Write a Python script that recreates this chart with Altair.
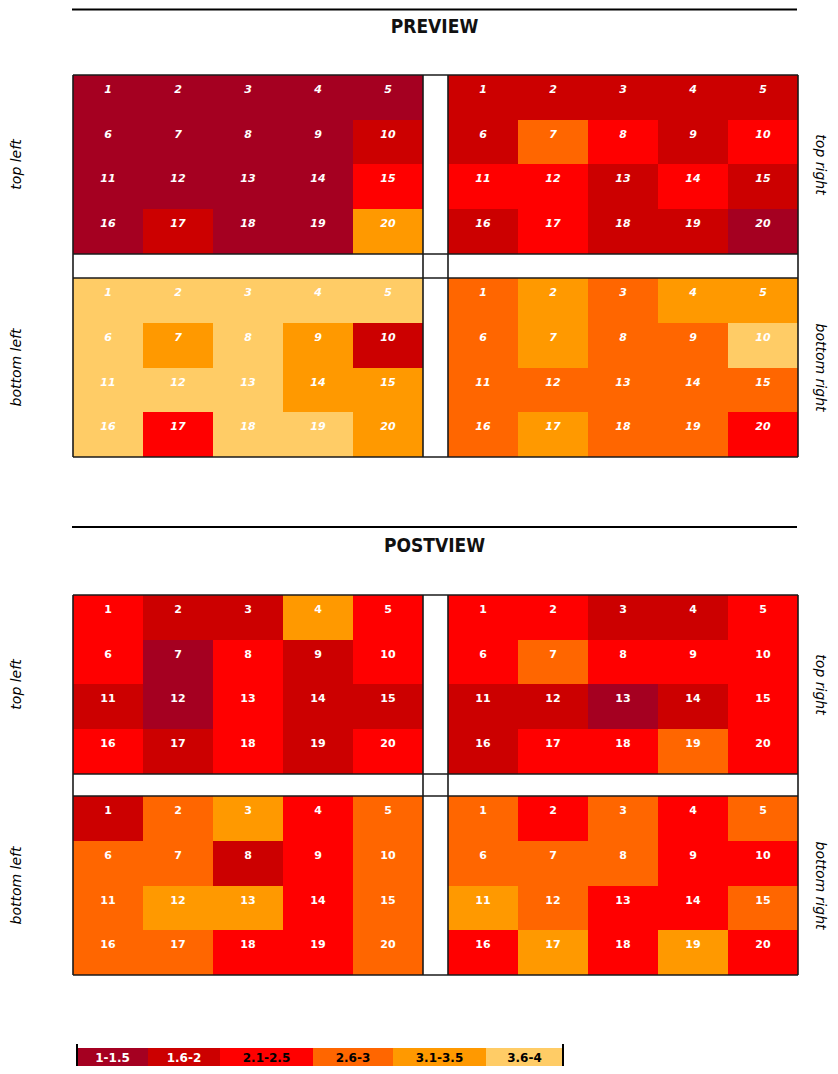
import altair as alt
import pandas as pd

# ---------------- data ----------------
CATEGORIES = ["1-1.5", "1.6-2", "2.1-2.5", "2.6-3", "3.1-3.5", "3.6-4"]
COLORS = ["#A50021", "#CC0000", "#FF0000", "#FF6600", "#FF9900", "#FFCC66"]
SECTIONS = ["PREVIEW", "POSTVIEW"]
QUADRANTS = ["top left", "top right", "bottom left", "bottom right"]
CELL_NUMBERS = list(range(1, 21))

# category index (1..6) of cells 1..20 (row by row, 5 per row)
PRE_TOP_LEFT = [1, 1, 1, 1, 1, 1, 1, 1, 1, 2, 1, 1, 1, 1, 3, 1, 2, 1, 1, 5]
PRE_TOP_RIGHT = [2, 2, 2, 2, 2, 2, 4, 3, 2, 3, 3, 3, 2, 3, 2, 2, 3, 2, 2, 1]
PRE_BOTTOM_LEFT = [6, 6, 6, 6, 6, 6, 5, 6, 5, 2, 6, 6, 6, 5, 5, 6, 3, 6, 6, 5]
PRE_BOTTOM_RIGHT = [4, 5, 4, 5, 5, 4, 5, 4, 4, 6, 4, 4, 4, 4, 4, 4, 5, 4, 4, 3]
POST_TOP_LEFT = [3, 2, 2, 5, 3, 3, 1, 3, 2, 3, 2, 1, 3, 2, 2, 3, 2, 3, 2, 3]
POST_TOP_RIGHT = [3, 3, 2, 2, 3, 3, 4, 3, 3, 3, 2, 2, 1, 2, 3, 2, 3, 3, 4, 3]
POST_BOTTOM_LEFT = [2, 4, 5, 3, 4, 4, 4, 2, 3, 4, 4, 5, 5, 3, 4, 4, 4, 3, 3, 4]
POST_BOTTOM_RIGHT = [4, 3, 4, 3, 4, 4, 4, 4, 3, 3, 5, 4, 3, 3, 4, 3, 5, 3, 5, 3]

VALUES = {
    "PREVIEW": [PRE_TOP_LEFT, PRE_TOP_RIGHT, PRE_BOTTOM_LEFT, PRE_BOTTOM_RIGHT],
    "POSTVIEW": [POST_TOP_LEFT, POST_TOP_RIGHT, POST_BOTTOM_LEFT, POST_BOTTOM_RIGHT],
}

# ---------------- layout (chart pixel units) ----------------
W, H = 822, 1058
QX = [65, 440]          # left edge of left / right quadrant
CW = 70                 # cell width
SEC_TOP = [67, 587]     # top of each section's grid
QH = 179                # quadrant height
GAP = [24, 22]          # gap between top and bottom quadrants
RH = QH / 4
GRID_RIGHT = QX[1] + 5 * CW
TITLE_Y = [19, 538]
LINE_Y = [1.5, 519]
LEG_EDGES = [69, 140, 212, 305, 385, 478, 555]
LEG_Y = [1040, 1058]

# ---------------- tables ----------------
cells = []
sides = []
rules = []
for s_i, sec in enumerate(SECTIONS):
    top = SEC_TOP[s_i]
    for q_i, quad in enumerate(QUADRANTS):
        qc, qr = q_i % 2, q_i // 2
        qtop = top + qr * (QH + GAP[s_i])
        for k, num in enumerate(CELL_NUMBERS):
            c, r = k % 5, k // 5
            y0 = round(qtop + r * RH)
            y1 = round(qtop + (r + 1) * RH)
            cells.append({
                "section": sec, "quadrant": quad, "num": str(num),
                "cat": CATEGORIES[VALUES[sec][q_i][k] - 1],
                "x": QX[qc] + c * CW, "x2": QX[qc] + (c + 1) * CW,
                "xc": QX[qc] + (c + 0.5) * CW,
                "y": y0, "y2": y1, "yt": y0 + 15,
            })
        sides.append({
            "label": quad, "side": "left" if qc == 0 else "right",
            "x": 9 if qc == 0 else 812, "y": qtop + QH / 2,
        })
    bottom = top + 2 * QH + GAP[s_i]
    # outer frame and separators
    for yy in [top, top + QH, top + QH + GAP[s_i], bottom]:
        rules.append({"x": QX[0], "x2": GRID_RIGHT, "y": yy, "y2": yy})
    for xx in [QX[0], QX[0] + 5 * CW, QX[1], GRID_RIGHT]:
        rules.append({"x": xx, "x2": xx, "y": top, "y2": bottom})

cells = pd.DataFrame(cells)
sides = pd.DataFrame(sides)
rules = pd.DataFrame(rules)

titles = pd.DataFrame({"label": SECTIONS, "x": [(64 + 789) / 2] * 2, "y": TITLE_Y})
hlines = pd.DataFrame({"x": [64, 64], "x2": [789, 789], "y": LINE_Y})

legend = pd.DataFrame({
    "cat": CATEGORIES,
    "x": LEG_EDGES[:-1], "x2": LEG_EDGES[1:],
    "xc": [(a + b) / 2 for a, b in zip(LEG_EDGES[:-1], LEG_EDGES[1:])],
    "y": [LEG_Y[0]] * 6, "y2": [LEG_Y[1]] * 6,
    "yc": [(LEG_Y[0] + LEG_Y[1]) / 2 + 1] * 6,
    "tcolor": ["white", "white", "black", "black", "black", "black"],
})
leg_lines = pd.DataFrame({"x": [LEG_EDGES[0], LEG_EDGES[-1]], "y": [1036, 1036], "y2": [LEG_Y[1], LEG_Y[1]]})

XS = alt.Scale(domain=[0, W], nice=False, zero=False)
YS = alt.Scale(domain=[H, 0], nice=False, zero=False)
CS = alt.Scale(domain=CATEGORIES, range=COLORS)


def X(f):
    return alt.X(f"{f}:Q", scale=XS, axis=None)


def Y(f):
    return alt.Y(f"{f}:Q", scale=YS, axis=None)


cell_rect = alt.Chart(cells).mark_rect(strokeWidth=0).encode(
    x=X("x"), x2="x2", y=Y("y"), y2="y2",
    color=alt.Color("cat:N", scale=CS, legend=None),
)

cell_text_pre = alt.Chart(cells).transform_filter(alt.datum.section == "PREVIEW").mark_text(
    font="DejaVu Sans", fontSize=11, fontWeight="bold", fontStyle="italic",
    color="white", baseline="middle", align="center",
).encode(x=X("xc"), y=Y("yt"), text="num:N")

cell_text_post = alt.Chart(cells).transform_filter(alt.datum.section == "POSTVIEW").mark_text(
    font="DejaVu Sans", fontSize=11, fontWeight="bold",
    color="white", baseline="middle", align="center",
).encode(x=X("xc"), y=Y("yt"), text="num:N")

grid_rules = alt.Chart(rules).mark_rule(color="#1a1a1a", strokeWidth=1.6).encode(
    x=X("x"), x2="x2", y=Y("y"), y2="y2",
)

side_left = alt.Chart(sides).transform_filter(alt.datum.side == "left").mark_text(
    font="DejaVu Sans", fontSize=14, fontStyle="italic", angle=270,
    baseline="middle", align="center", color="black",
).encode(x=X("x"), y=Y("y"), text="label:N")

side_right = alt.Chart(sides).transform_filter(alt.datum.side == "right").mark_text(
    font="DejaVu Sans", fontSize=14, fontStyle="italic", angle=90,
    baseline="middle", align="center", color="black",
).encode(x=X("x"), y=Y("y"), text="label:N")

title_text = alt.Chart(titles).mark_text(
    font="DejaVu Sans Condensed", fontSize=19, fontWeight="bold",
    baseline="middle", align="center", color="#111",
).encode(x=X("x"), y=Y("y"), text="label:N")

title_lines = alt.Chart(hlines).mark_rule(color="black", strokeWidth=2).encode(
    x=X("x"), x2="x2", y=Y("y"),
)

leg_rect = alt.Chart(legend).mark_rect(strokeWidth=0).encode(
    x=X("x"), x2="x2", y=Y("y"), y2="y2",
    color=alt.Color("cat:N", scale=CS, legend=None),
)
leg_text = alt.Chart(legend).mark_text(
    font="DejaVu Sans", fontSize=12, fontWeight="bold", baseline="middle", align="center",
).encode(x=X("xc"), y=Y("yc"), text="cat:N", color=alt.Color("tcolor:N", scale=None))
leg_edge = alt.Chart(leg_lines).mark_rule(color="black", strokeWidth=2).encode(
    x=X("x"), y=Y("y"), y2="y2",
)

chart = alt.layer(
    cell_rect, cell_text_pre, cell_text_post, grid_rules,
    side_left, side_right, title_lines, title_text,
    leg_rect, leg_text, leg_edge,
).properties(
    width=W, height=H, padding=0, autosize="none",
).configure_view(stroke=None)

chart.save("out.html", embed_options={"renderer": "svg", "actions": False})
